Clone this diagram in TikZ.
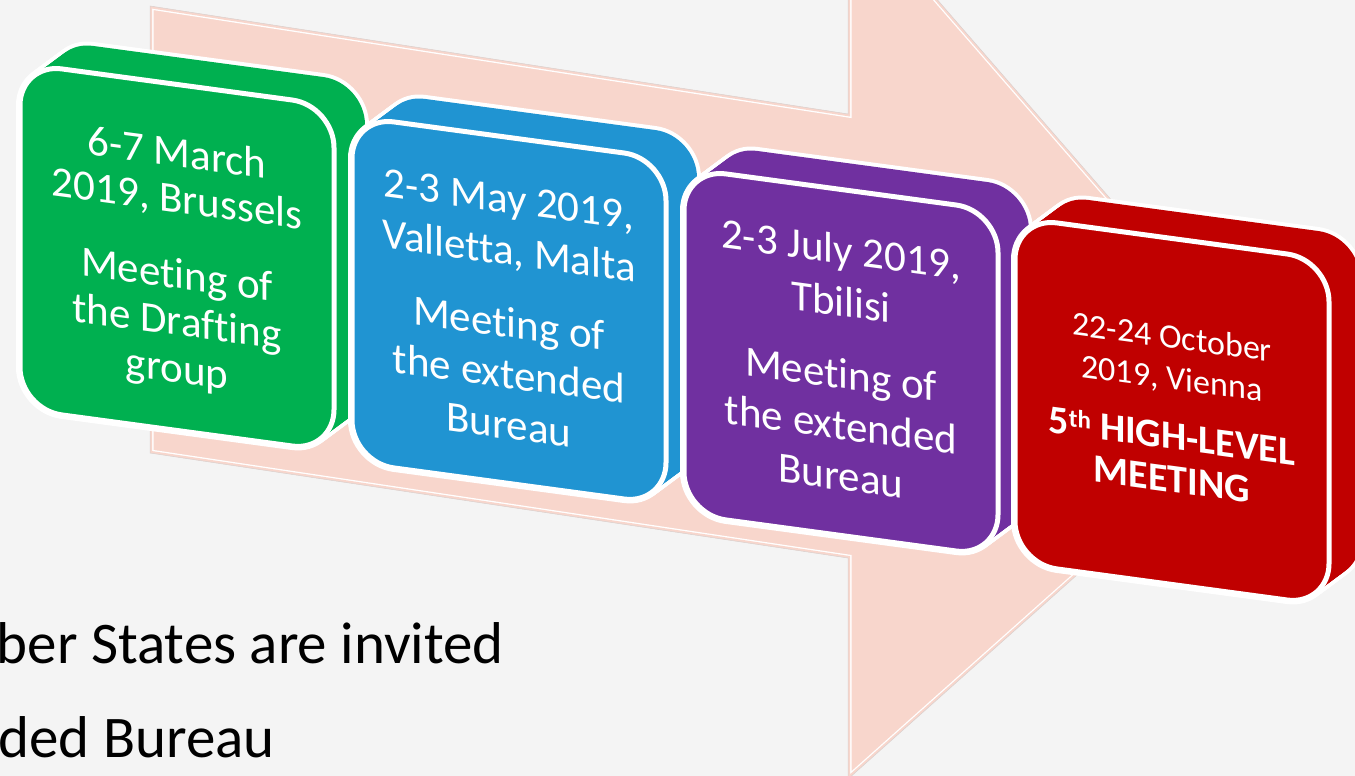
\documentclass[tikz,border=0pt]{standalone}
\usepackage{fontspec}
\setmainfont[Ligatures={NoCommon}]{Carlito}
\usetikzlibrary{calc}
\definecolor{bg}{HTML}{F4F4F4}
\definecolor{arrowpink}{HTML}{F8D6CC}
\definecolor{arrowedge}{HTML}{D8D0CE}
\definecolor{cgreen}{HTML}{00B050}
\definecolor{cblue}{HTML}{2094D2}
\definecolor{cpurple}{HTML}{7030A0}
\definecolor{cred}{HTML}{C00000}
\tikzset{
  boxtext/.style={text=white, align=center, inner sep=0pt, anchor=north, transform shape},
  bigfont/.style={font=\fontsize{43}{#1}\selectfont},
  note/.style={text=black, inner sep=0pt, anchor=base east, font=\fontsize{59}{70}\selectfont}
}
\newcommand\slabbox[3]{%
  \begin{scope}[cm={1,-0.135,0,1,(#1,-#2)}]
    \foreach \t in {0,...,16}{\draw[white, line width=8pt, rounded corners=42pt] ({2+31*\t/16},{-2+27.2*\t/16}) rectangle ++(314,-346);}
    \foreach \t in {0,...,16}{\fill[#3, rounded corners=42pt] ({2+31*\t/16},{-2+27.2*\t/16}) rectangle ++(314,-346);}
    \draw[white, line width=5pt, fill=#3, rounded corners=42pt] (2,-2) rectangle ++(314,-346);
  \end{scope}}
\begin{document}
\begin{tikzpicture}[x=1pt,y=1pt]
\useasboundingbox (0,0) rectangle (1355,-776);
\fill[bg] (0,0) rectangle (1355,-776);
\begin{scope}
\clip (0,0) rectangle (1355,-776);
% big arrow
\def\arrowpath{(150,-6) -- (848,-114) -- (848,103) -- (1280,-394) -- (848,-779) -- (848,-558) -- (150,-453) -- cycle}
\fill[arrowpink] \arrowpath;
\begin{scope}
  \clip \arrowpath;
  \draw[white, line width=7pt, line join=miter] \arrowpath;
  \draw[arrowpink, line width=4.4pt, line join=miter] \arrowpath;
\end{scope}
\draw[arrowedge, line width=0.5pt] \arrowpath;
% boxes
\slabbox{18}{61}{cgreen}
\begin{scope}[cm={1,-0.135,0,1,(18,-61)}]
  \node[boxtext, bigfont=46] (g1) at (159,-54) {6-7 March\\2019, Brussels};
  \node[boxtext, bigfont=47] (g2) at (159,-176) {Meeting of\\the Drafting\\group};
\end{scope}
\slabbox{350}{114}{cblue}
\begin{scope}[cm={1,-0.135,0,1,(350,-114)}]
  \node[boxtext, bigfont=52] (b1) at (159,-49.5) {2-3 May 2019,\\Valletta, Malta};
  \node[boxtext, bigfont=51] (b2) at (159,-172) {Meeting of\\the extended\\Bureau};
\end{scope}
\slabbox{682}{166}{cpurple}
\begin{scope}[cm={1,-0.135,0,1,(682,-166)}]
  \node[boxtext, bigfont=52] (p1) at (159,-46.5) {2-3 July 2019,\\Tbilisi};
  \node[boxtext, bigfont=51] (p2) at (159,-171) {Meeting of\\the extended\\Bureau};
\end{scope}
\slabbox{1013}{215}{cred}
\begin{scope}[cm={1,-0.135,0,1,(1013,-215)}]
  \node[boxtext, font=\fontsize{34}{41}\selectfont] (r1) at (159,-88) {22-24 October\\2019, Vienna};
  \node[boxtext, font=\fontsize{40}{43}\selectfont\bfseries] (r2) at (159,-186) {5\raisebox{9pt}{\fontsize{25}{25}\selectfont th} HIGH-LEVEL\\MEETING};
\end{scope}
% bottom text
\node[note] (n1) at (504,-663) {ber States are invited};
\node[note] (n2) at (275,-757) {ded Bureau};
\end{scope}
\end{tikzpicture}
\end{document}
